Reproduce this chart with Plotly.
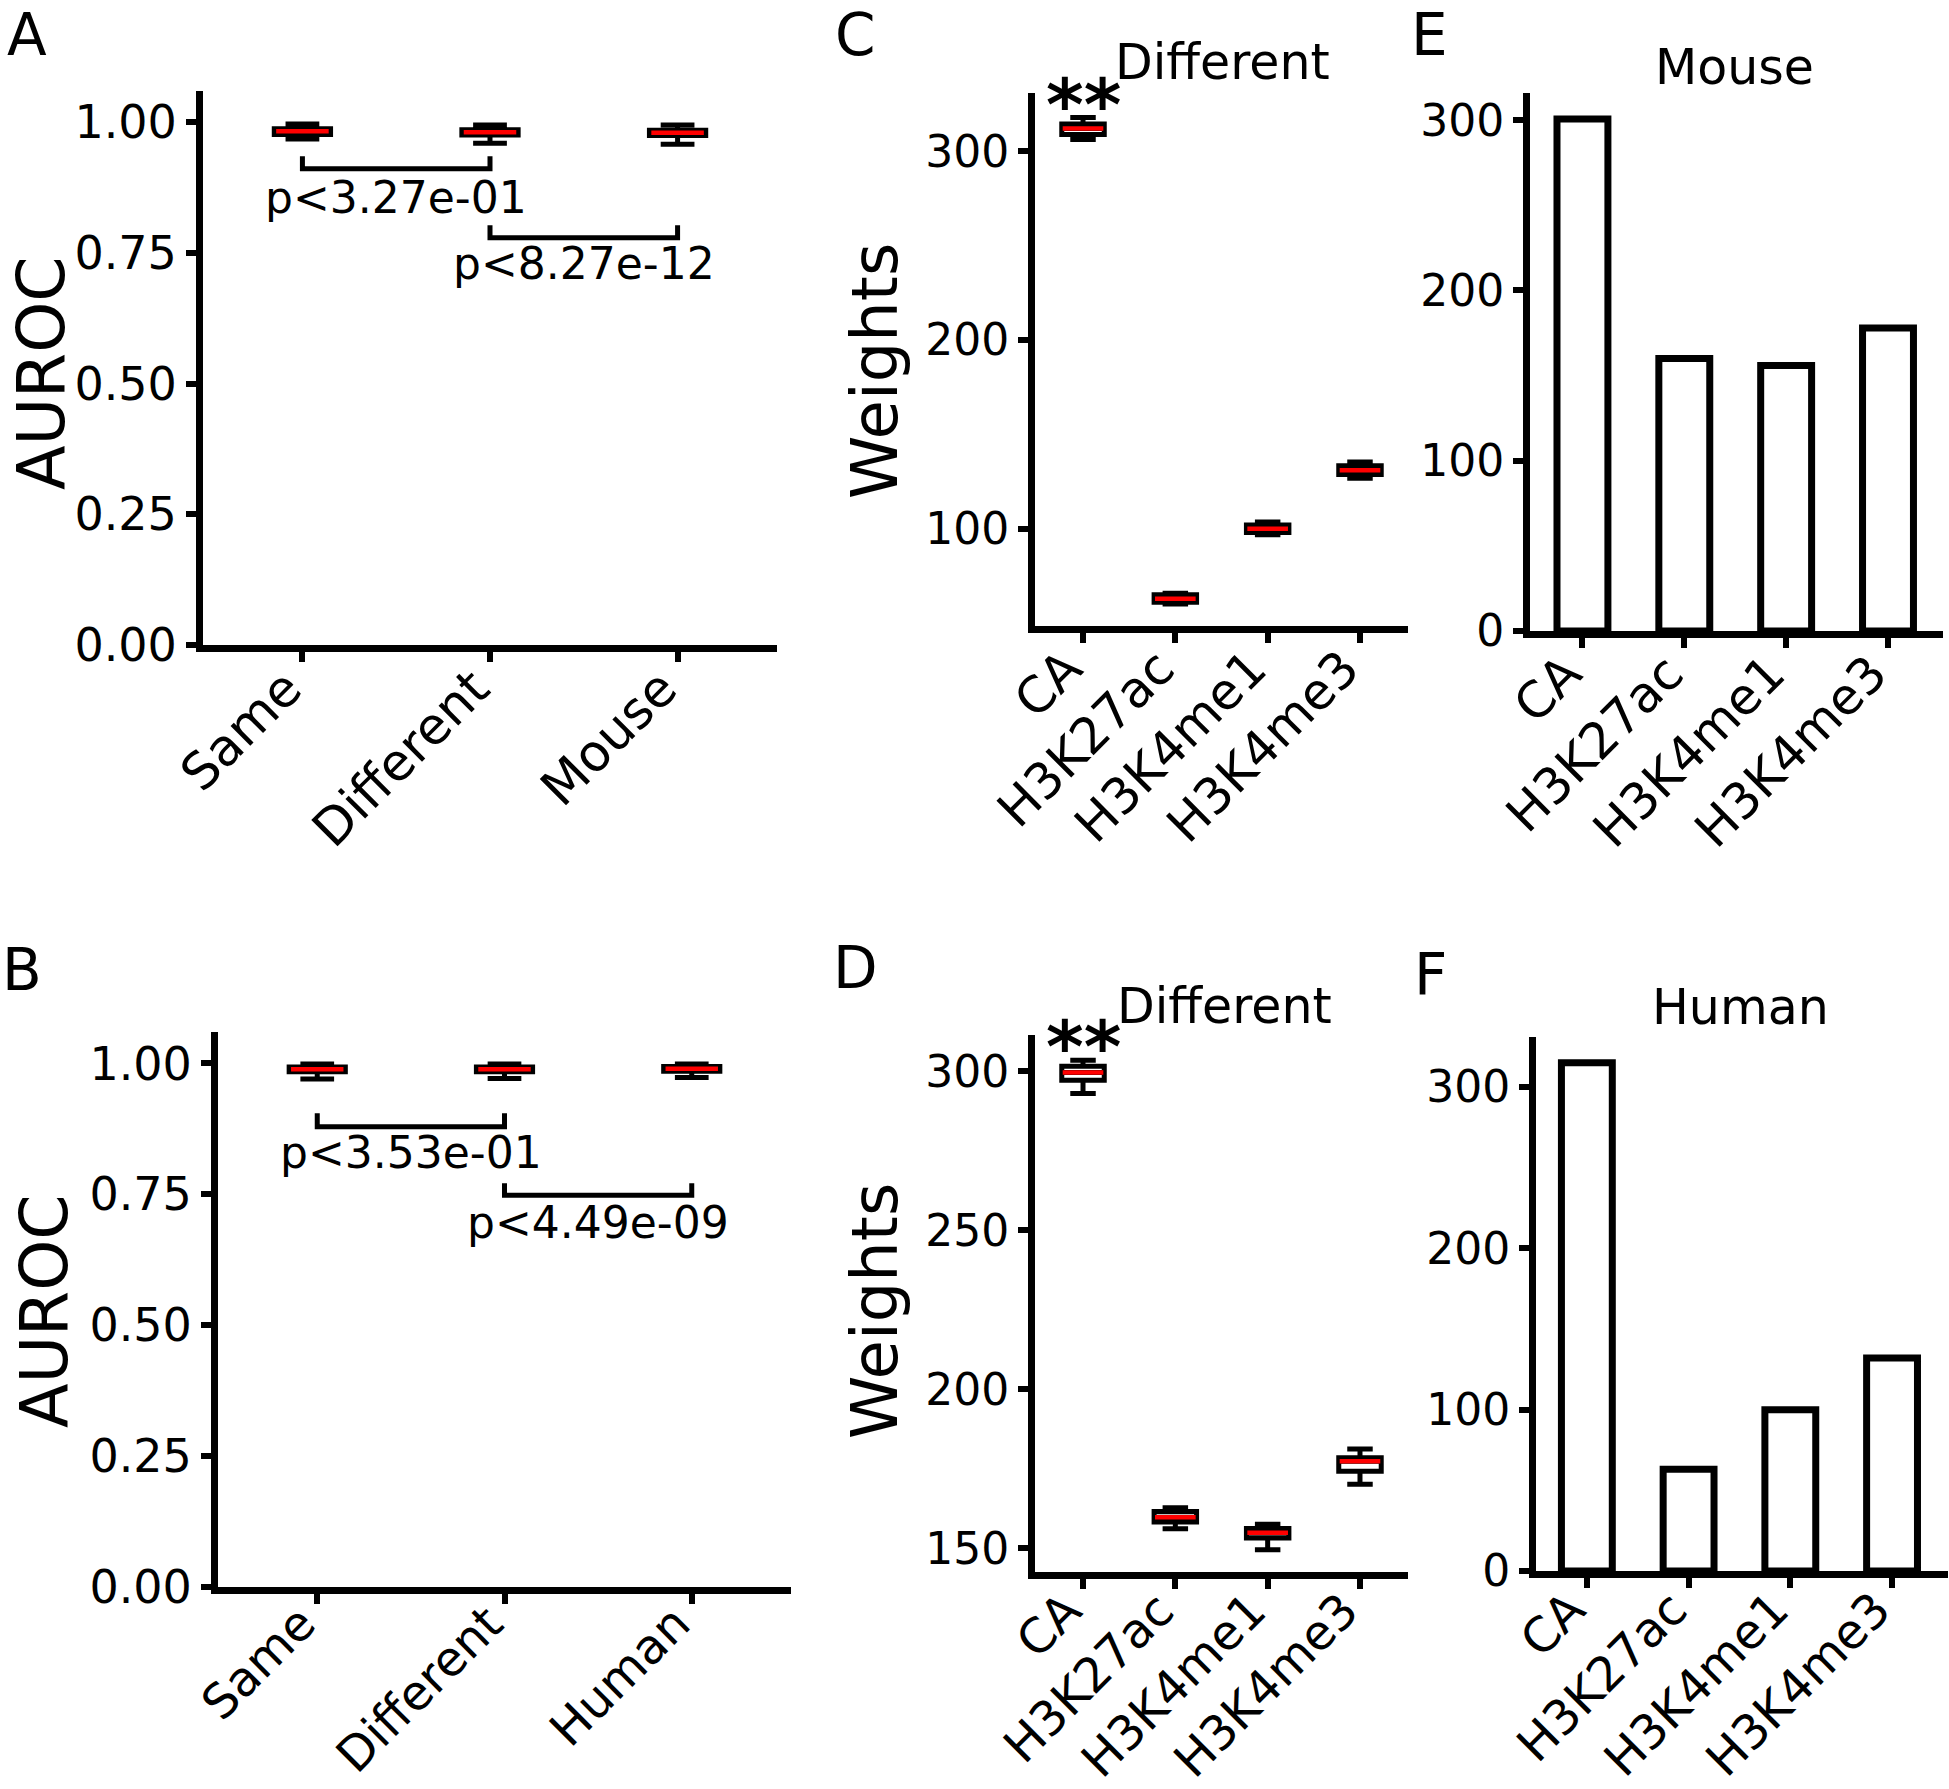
import plotly.graph_objects as go

W, H = 1949, 1789

# ---------------- data ----------------
a_cats = ["Same", "Different", "Mouse"]
a_lower = [0.968, 0.960, 0.958]
a_q1 = [0.977, 0.976, 0.975]
a_med = [0.983, 0.981, 0.980]
a_q3 = [0.988, 0.986, 0.985]
a_upper = [0.997, 0.995, 0.995]
a_pvals = ["p<3.27e-01", "p<8.27e-12"]
a_bracket_top = [0.935, 0.803]
a_bracket_low = [0.911, 0.779]
a_text_y = [0.856, 0.729]

b_cats = ["Same", "Different", "Human"]
b_lower = [0.970, 0.971, 0.973]
b_q1 = [0.984, 0.984, 0.985]
b_med = [0.989, 0.989, 0.990]
b_q3 = [0.993, 0.993, 0.994]
b_upper = [0.999, 0.999, 0.999]
b_pvals = ["p<3.53e-01", "p<4.49e-09"]
b_bracket_top = [0.905, 0.771]
b_bracket_low = [0.879, 0.748]
b_text_y = [0.829, 0.697]

marks = ["CA", "H3K27ac", "H3K4me1", "H3K4me3"]
c_lower = [306.4, 60.0, 96.8, 126.7]
c_q1 = [309.0, 61.0, 98.0, 128.7]
c_med = [312.2, 62.9, 100.0, 131.0]
c_q3 = [314.5, 65.0, 102.0, 133.3]
c_upper = [318.0, 65.8, 103.5, 135.4]

d_lower = [293.0, 156.2, 149.6, 170.2]
d_q1 = [297.2, 158.3, 153.3, 174.3]
d_med = [299.6, 159.8, 154.9, 177.4]
d_q3 = [301.6, 161.6, 156.3, 178.5]
d_upper = [303.5, 162.8, 157.6, 181.3]

e_vals = [300.7, 160.0, 156.0, 178.0]
f_vals = [315.0, 63.0, 100.0, 132.0]

# ---------------- layout constants ----------------
FONT = "DejaVu Sans"
PFONT = 44
panels = {
    "A": dict(ax="", x0=203, x1=777, y0=91, y1=645, xr=[-0.53, 2.53], yr=[0, 1.06], xf=51, yf=46, so=-24),
    "B": dict(ax="2", x0=218, x1=791, y0=1032, y1=1587, xr=[-0.53, 2.53], yr=[0, 1.06], xf=48, yf=46, so=-28),
    "C": dict(ax="3", x0=1035, x1=1408, y0=93, y1=626, xr=[-0.52, 3.52], yr=[48.4, 331], xf=50, yf=44, so=-24),
    "D": dict(ax="4", x0=1035, x1=1408, y0=1035, y1=1572, xr=[-0.52, 3.52], yr=[142.6, 311.4], xf=48, yf=44, so=-26),
    "E": dict(ax="5", x0=1530, x1=1943, y0=93, y1=631, xr=[-0.515, 3.54], yr=[0, 316], xf=50, yf=44, so=-24),
    "F": dict(ax="6", x0=1536, x1=1948, y0=1037, y1=1571, xr=[-0.5, 3.55], yr=[0, 331], xf=48, yf=44, so=-26),
}

fig = go.Figure()


def add_boxes(p, cats, lo, q1, med, q3, hi, bw, ww):
    xa, ya = "x" + p["ax"], "y" + p["ax"]
    xs = list(range(len(cats)))
    fig.add_trace(go.Box(
        x=xs, q1=q1, median=med, q3=q3, lowerfence=lo, upperfence=hi,
        width=bw, whiskerwidth=ww, boxpoints=False,
        line=dict(color="black", width=5), fillcolor="white",
        showlegend=False, hoverinfo="skip", xaxis=xa, yaxis=ya))
    for i, m in enumerate(med):
        fig.add_trace(go.Scatter(
            x=[i - bw / 2 + 0.01, i + bw / 2 - 0.01], y=[m, m], mode="lines",
            line=dict(color="red", width=4.5), showlegend=False,
            hoverinfo="skip", xaxis=xa, yaxis=ya))


def add_brackets(p, tops, lows, texts, text_y):
    xa, ya = "x" + p["ax"], "y" + p["ax"]
    for k in range(len(texts)):
        fig.add_trace(go.Scatter(
            x=[k, k, k + 1, k + 1], y=[tops[k], lows[k], lows[k], tops[k]],
            mode="lines", line=dict(color="black", width=5),
            showlegend=False, hoverinfo="skip", xaxis=xa, yaxis=ya))
        fig.add_annotation(x=k + 0.5, y=text_y[k], xref=xa, yref=ya,
                           text=texts[k], showarrow=False,
                           font=dict(family=FONT, size=PFONT, color="black"),
                           xanchor="center", yanchor="middle")


def add_bars(p, cats, vals):
    xa, ya = "x" + p["ax"], "y" + p["ax"]
    fig.add_trace(go.Bar(
        x=list(range(len(cats))), y=vals, width=0.5,
        marker=dict(color="white", line=dict(color="black", width=7)),
        showlegend=False, hoverinfo="skip", xaxis=xa, yaxis=ya))


add_boxes(panels["A"], a_cats, a_lower, a_q1, a_med, a_q3, a_upper, 0.30, 0.6)
add_brackets(panels["A"], a_bracket_top, a_bracket_low, a_pvals, a_text_y)
add_boxes(panels["B"], b_cats, b_lower, b_q1, b_med, b_q3, b_upper, 0.30, 0.6)
add_brackets(panels["B"], b_bracket_top, b_bracket_low, b_pvals, b_text_y)
add_boxes(panels["C"], marks, c_lower, c_q1, c_med, c_q3, c_upper, 0.46, 0.6)
add_boxes(panels["D"], marks, d_lower, d_q1, d_med, d_q3, d_upper, 0.46, 0.6)
add_bars(panels["E"], marks, e_vals)
add_bars(panels["F"], marks, f_vals)

# significance stars over CA
for key, hi in (("C", c_upper), ("D", d_upper)):
    p = panels[key]
    fig.add_annotation(x=0, y=hi[0], xref="x" + p["ax"], yref="y" + p["ax"],
                       text="<b>**</b>", showarrow=False, yshift=-31,
                       font=dict(family=FONT, size=72, color="black"),
                       xanchor="center", yanchor="bottom")

cat_map = {"A": a_cats, "B": b_cats, "C": marks, "D": marks, "E": marks, "F": marks}
ytick_map = {
    "A": [0, 0.25, 0.5, 0.75, 1.0], "B": [0, 0.25, 0.5, 0.75, 1.0],
    "C": [100, 200, 300], "D": [150, 200, 250, 300],
    "E": [0, 100, 200, 300], "F": [0, 100, 200, 300],
}

axis_common = dict(showline=True, linewidth=7, linecolor="black", mirror=False,
                   ticks="outside", ticklen=10, tickwidth=6, tickcolor="black",
                   showgrid=False, zeroline=False, automargin=False,
                   ticklabeloverflow="allow")

for key, p in panels.items():
    xd = [p["x0"] / W, p["x1"] / W]
    yd = [1 - p["y1"] / H, 1 - p["y0"] / H]
    cats = cat_map[key]
    xa = dict(axis_common, domain=xd, range=p["xr"], tickmode="array",
              tickvals=list(range(len(cats))), ticktext=cats, tickangle=-45,
              ticklabelshift=-16, ticklabelstandoff=p["so"], anchor="y" + p["ax"],
              tickfont=dict(family=FONT, size=p["xf"], color="black"))
    ya = dict(axis_common, domain=yd, range=p["yr"], tickmode="array",
              tickvals=ytick_map[key], anchor="x" + p["ax"],
              tickfont=dict(family=FONT, size=p["yf"], color="black"))
    if key in ("A", "B"):
        ya["tickformat"] = ".2f"
    fig.update_layout(**{"xaxis" + p["ax"]: xa, "yaxis" + p["ax"]: ya})


def paper_text(text, px, py, size, angle=0, yanchor="middle"):
    fig.add_annotation(x=px / W, y=1 - py / H, xref="paper", yref="paper",
                       text=text, showarrow=False, textangle=angle,
                       font=dict(family=FONT, size=size, color="black"),
                       xanchor="center", yanchor=yanchor, borderpad=0)


# panel letters
for letter, px in {"A": 27, "C": 855, "E": 1429}.items():
    paper_text(letter, px, 0, 58, yanchor="top")
for letter, (px, py) in {"B": (22, 970), "D": (855, 968), "F": (1430, 975)}.items():
    paper_text(letter, px, py, 58)

# panel titles
paper_text("Different", 1222, 62, 49)
paper_text("Different", 1224, 1007, 49)
paper_text("Mouse", 1734, 68, 49)
paper_text("Human", 1740, 1008, 49)

# axis titles
paper_text("AUROC", 42, 373, 65, -90)
paper_text("AUROC", 44, 1311, 65, -90)
paper_text("Weights", 875, 371, 64, -90)
paper_text("Weights", 875, 1311, 64, -90)

fig.update_layout(width=W, height=H, autosize=False,
                  margin=dict(l=0, r=0, t=0, b=0, autoexpand=False),
                  plot_bgcolor="white", paper_bgcolor="white",
                  showlegend=False, barmode="overlay",
                  font=dict(family=FONT, color="black"))

fig.write_html("out.html", config={"displayModeBar": False},
               post_script="document.body.style.margin='0';")
